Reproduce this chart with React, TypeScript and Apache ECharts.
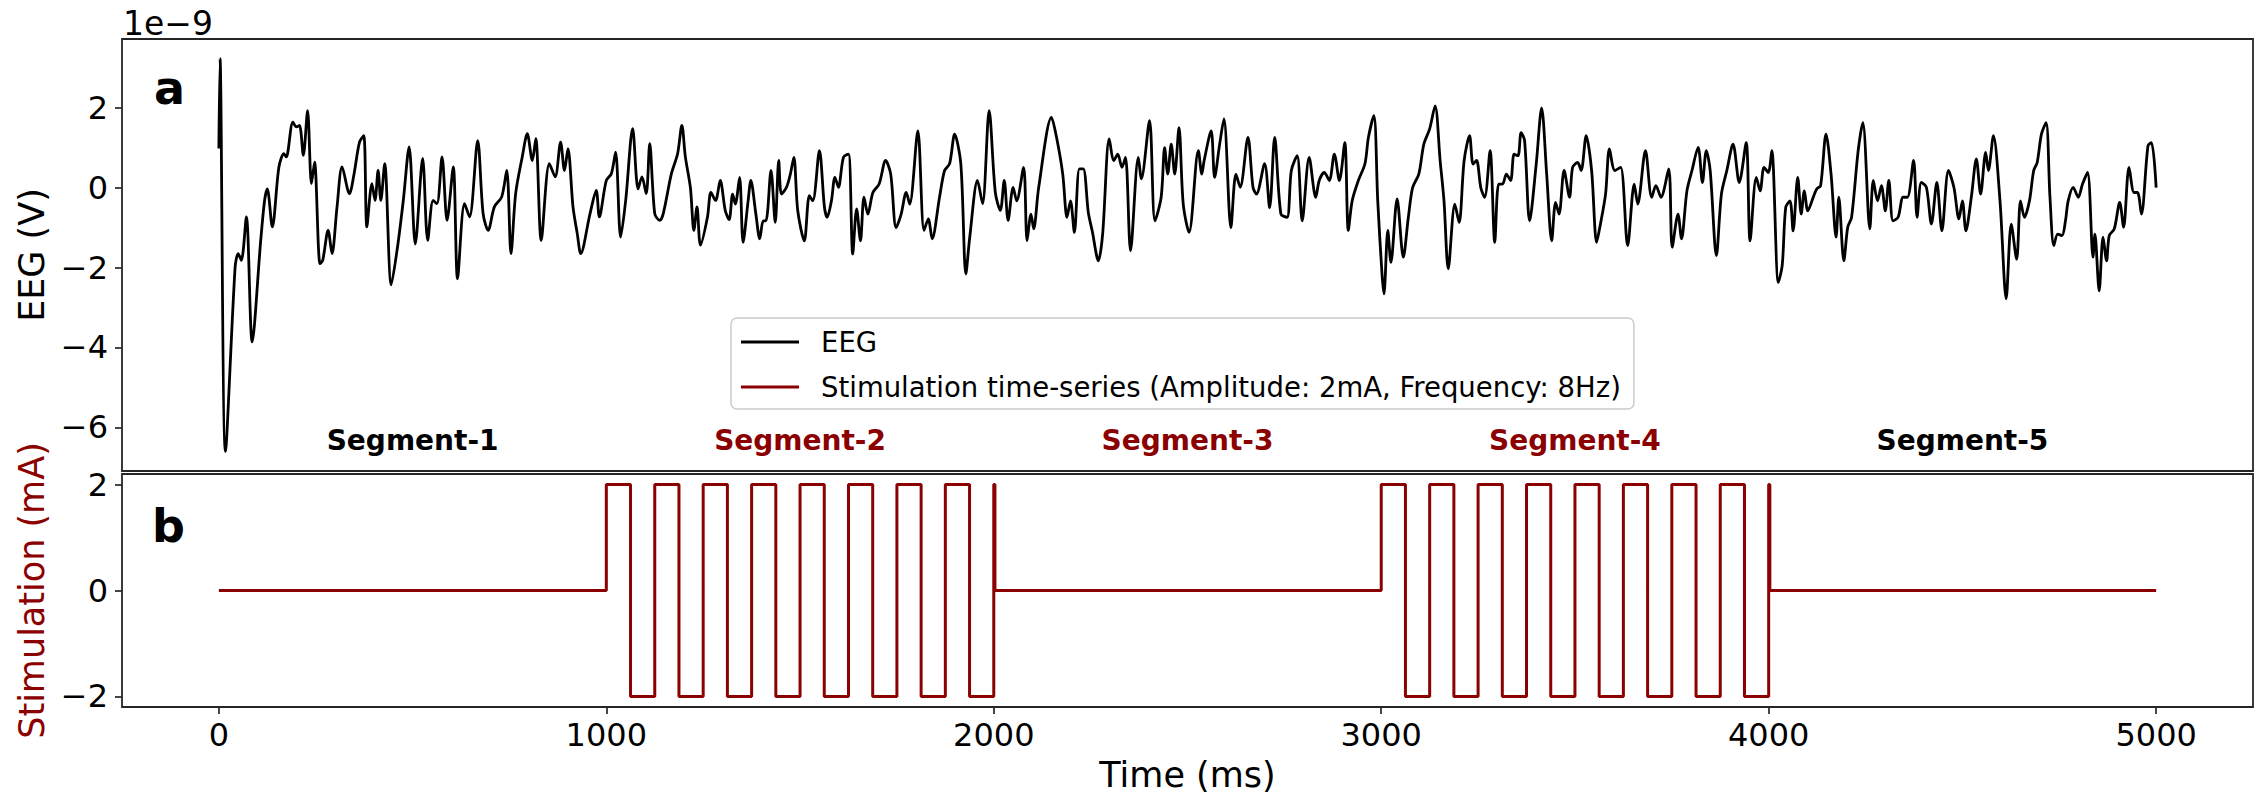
import React, { useEffect, useRef } from "react";
import * as echarts from "echarts";

// ---- Data ----
// EEG samples (time in ms, value in units of 1e-9 V)
const eegTime = [
  0, 3, 17, 42, 50, 58, 71, 86, 108, 118, 125, 138, 155, 168, 174, 191, 200, 208, 218, 229,
  239, 247, 261, 268, 282, 292, 305, 318, 337, 349, 363, 374, 382, 395, 403, 411, 418, 428, 445, 461,
  476, 491, 507, 526, 539, 553, 563, 576, 589, 605, 616, 634, 647, 668, 682, 695, 711, 730, 743, 754,
  766, 783, 796, 809, 818, 832, 853, 868, 882, 892, 901, 914, 925, 934, 958, 974, 982, 1000, 1013, 1024,
  1037, 1050, 1068, 1082, 1092, 1103, 1112, 1125, 1138, 1147, 1168, 1184, 1195, 1204, 1217, 1226, 1234, 1243,
  1261, 1270, 1282, 1294, 1307, 1317, 1326, 1333, 1344, 1353, 1366, 1373, 1386, 1396, 1405, 1412, 1425, 1436,
  1445, 1452, 1465, 1475, 1484, 1494, 1511, 1524, 1533, 1550, 1563, 1570, 1581, 1590, 1599, 1612, 1625, 1636,
  1646, 1656, 1665, 1675, 1688, 1704, 1721, 1734, 1748, 1761, 1774, 1783, 1804, 1820, 1831, 1841, 1860, 1873,
  1886, 1899, 1915, 1928, 1938, 1958, 1971, 1988, 2004, 2017, 2027, 2037, 2050, 2059, 2077, 2086, 2096, 2103,
  2116, 2149, 2162, 2178, 2189, 2198, 2208, 2221, 2231, 2244, 2254, 2270, 2281, 2298, 2310, 2320, 2331, 2340,
  2353, 2373, 2381, 2402, 2416, 2432, 2441, 2449, 2458, 2467, 2478, 2489, 2504, 2528, 2537, 2543, 2561, 2570,
  2583, 2594, 2612, 2625, 2636, 2656, 2669, 2678, 2699, 2712, 2725, 2741, 2757, 2768, 2783, 2796, 2814, 2831,
  2840, 2853, 2866, 2879, 2892, 2906, 2915, 2925, 2941, 2958, 2967, 2981, 2991, 3002, 3007, 3017, 3025, 3041,
  3057, 3070, 3081, 3097, 3110, 3125, 3139, 3152, 3162, 3173,
  3190, 3201, 3214, 3228, 3237, 3246, 3257, 3267, 3281, 3293, 3303, 3313, 3323, 3334, 3343, 3353, 3361, 3370,
  3383, 3400, 3414, 3427, 3440, 3450, 3459, 3472, 3486, 3494, 3507, 3516, 3529, 3543, 3556, 3565, 3579, 3589,
  3603, 3618, 3636, 3653, 3662, 3682, 3698, 3709, 3722, 3742, 3751, 3766, 3775, 3789, 3802, 3818, 3829, 3839,
  3849, 3865, 3878, 3892, 3908, 3924, 3942, 3952, 3968, 3978, 3988, 3999, 4008, 4025, 4035, 4044, 4055, 4063,
  4075, 4084, 4092, 4101, 4115, 4124, 4134, 4148, 4161, 4174, 4181, 4194, 4204, 4214, 4231, 4243, 4261, 4270,
  4281, 4291, 4301, 4310, 4321, 4334, 4347, 4358, 4374, 4383, 4394, 4407, 4420, 4434, 4447, 4464, 4478, 4491,
  4500, 4509, 4523, 4536, 4547, 4560, 4567, 4580, 4597, 4613, 4626, 4640, 4650, 4660, 4673, 4684, 4693, 4704,
  4716, 4726, 4736, 4746, 4757, 4766, 4773, 4786, 4799, 4810, 4823, 4837, 4842, 4853, 4863, 4872, 4879, 4892,
  4906, 4916, 4930, 4943, 4952, 4962, 4979, 4988, 5000,
];
const eegValue = [
  0.98, 3.23, -6.6, -1.98, -1.65, -1.82, -0.73, -3.86, -1.32, -0.32, -0.03, -0.98, 0.52, 0.85, 0.77, 1.64, 1.52, 1.56, 0.81, 1.93,
  0.1, 0.64, -1.9, -1.82, -1.07, -1.65, -0.48, 0.52, -0.15, 0.35, 1.14, 1.3, -0.98, 0.1, -0.32, 0.43, -0.32, 0.6, -2.43, -1.49,
  -0.32, 1.02, -1.41, 0.73, -1.32, -0.32, -0.4, 0.77, -0.82, 0.52, -2.28, -0.4, -0.73, 1.18, -0.65, -1.07, -0.48, -0.23, 0.43, -1.65,
  -0.15, 0.77, 1.35, 0.68, 1.23, -1.32, 0.6, 0.27, 1.14, 0.43, 0.98, -0.48, -1.15, -1.65, -0.65, -0.07, -0.73, 0.18, 0.35, 0.89,
  -1.24, -0.32, 1.48, -0.03, 0.27, -0.15, 1.1, -0.65, -0.82, -0.65, 0.35, 0.85, 1.56, 0.77, 0.0, -1.07, -0.48, -1.44,
  -0.74, -0.12, -0.32, 0.18, -0.57, -0.8, -0.16, -0.41, 0.26, -1.37, -0.33, 0.18, -0.66, -1.28, -0.83, -0.83, 0.43, -0.87,
  0.68, -0.16, 0.01, 0.34, 0.76, -0.57, -1.33, -0.2, -0.33, 0.93, -0.49, -0.74, -0.33, 0.26, 0.01, 0.76, 0.84, -1.66,
  -0.53, -1.33, -0.24, -0.66, -0.12, 0.09, 0.68, 0.34, -1.0, -0.66, -0.12, -0.41, 1.42, -1.07, -0.78, -1.28, -0.24, 0.43,
  0.6, 1.34, 0.59, -2.16, -1.24, 0.18, -0.4, 1.93, -0.12, -0.57, 0.18, -0.82, 0.01, -0.33, 0.51, -1.33, -0.66, -1.03,
  0.01, 1.76, 1.26, 0.34, -0.74, -0.33, -1.12, 0.47, 0.47, -0.62, -1.08, -1.83, -1.16, 1.22, 0.68, 0.84, 0.51, 0.76,
  -1.58, 0.76, 0.22, 1.68, -0.83, -0.24, 1.0, 0.34, 1.09, 0.34, 1.5, -0.41, -1.12, 0.93, 0.34, 0.68, 1.42, 0.26,
  1.09, 1.72, -1.0, 0.34, 0.01, 1.26, 0.01, -0.16, 0.6, -0.5, 1.26, -0.66, -0.74, 0.43, 0.8, -0.83, 0.76, -0.24,
  0.18, 0.38, 0.18, 0.84, 0.18, 1.13, -1.07, -0.33, 0.18, 0.6, 1.26, 1.8, -0.33, -2.16, -2.66, -1.07, -1.87, -0.28,
  -1.74, -0.74, 0.0, 0.34, 1.09, 1.47, 2.05, 0.68, -0.33, -2.03,
  -0.41, -0.87, 0.68, 1.3, 0.59, 0.68, 0.0, -0.24, 0.93, -1.37, 0.09, 0.09, 0.34, 0.18, 0.84, 0.8, 1.38, 1.18,
  -0.83, 0.59, 2.0, 0.34, -1.33, -0.37, -0.66, 0.43, -0.24, 0.51, 0.63, 0.43, 1.3, 0.43, -1.37, -0.95, -0.16, 0.97,
  0.43, 0.51, -1.45, 0.09, -0.41, 0.93, -0.24, 0.05, -0.24, 0.47, -1.49, -0.66, -1.28, -0.08, 0.43, 1.01, 0.13, 0.93,
  0.43, -1.7, -0.16, 0.43, 1.09, 0.13, 1.13, -1.33, 0.26, -0.08, 0.51, 0.38, 0.93, -2.37, -1.94, -0.49, -0.33, -1.08,
  0.26, -0.66, -0.08, -0.58, -0.24, -0.03, 0.05, 1.34, 0.34, -1.24, -0.24, -1.83, -0.99, -0.74, 0.93, 1.63, -1.03, 0.18,
  -0.33, 0.05, -0.58, 0.18, -0.83, -0.74, -0.24, -0.24, 0.68, -0.74, 0.13, 0.01, -0.91, 0.13, -1.08, 0.43, 0.01, -0.78,
  -0.33, -1.08, -0.24, 0.72, -0.16, 0.88, 0.43, 1.3, -0.33, -2.78, -0.91, -1.79, -0.33, -0.74, -0.33, 0.43, 0.63, 1.34,
  1.63, -0.24, -1.45, -1.16, -1.2, -0.83, -0.33, 0.01, -0.24, 0.09, 0.38, -1.74, -1.16, -2.58, -1.24, -1.83, -1.2, -1.03,
  -0.37, -0.99, 0.51, -0.12, -0.12, -0.66, 1.05, 1.13, 0.0,
];

// Stimulation change points (time in ms, current in mA), held until the next point
const stimTime = [
  0, 1000, 1062.5, 1125, 1187.5, 1250, 1312.5, 1375, 1437.5, 1500, 1562.5, 1625, 1687.5, 1750, 1812.5, 1875, 1937.5, 2000, 2003,
  3000, 3062.5, 3125, 3187.5, 3250, 3312.5, 3375, 3437.5, 3500, 3562.5, 3625, 3687.5, 3750, 3812.5, 3875, 3937.5, 4000, 4003,
  5000,
];
const stimValue = [
  0, 2, -2, 2, -2, 2, -2, 2, -2, 2, -2, 2, -2, 2, -2, 2, -2, 2, 0,
  2, -2, 2, -2, 2, -2, 2, -2, 2, -2, 2, -2, 2, -2, 2, -2, 2, 0,
  0,
];

const segmentCenters = [500, 1500, 2500, 3500, 4500];
const segmentNames = ["Segment-1", "Segment-2", "Segment-3", "Segment-4", "Segment-5"];
const segmentColors = ["#000000", "#8B0000", "#8B0000", "#8B0000", "#000000"];
const segmentLabelY = -6.33;

const xTicks = [0, 1000, 2000, 3000, 4000, 5000];
const eegTicks = [-6, -4, -2, 0, 2];
const stimTicks = [-2, 0, 2];

const EEG_NAME = "EEG";
const STIM_NAME = "Stimulation time-series (Amplitude: 2mA, Frequency: 8Hz)";

const FONT = "'DejaVu Sans', 'Noto Sans', sans-serif";
const DARK_RED = "#8B0000";
const FRAME = "#262626";

function buildOption() {
  const eegMin = Math.min(...eegValue);
  const eegMax = Math.max(...eegValue);
  const pad = (eegMax - eegMin) * 0.05;
  const minus = (v: number) => String(v).replace("-", "\u2212");

  const tickStyle = (values: number[]) => ({
    show: true,
    inside: false,
    length: 7,
    customValues: values,
    lineStyle: { color: FRAME, width: 1.7 },
  });
  const labelStyle = (values: number[], margin: number) => ({
    show: true,
    customValues: values,
    margin,
    fontSize: 32,
    fontFamily: FONT,
    color: "#000",
    formatter: (v: number) => minus(v),
  });

  return {
    animation: false,
    backgroundColor: "#ffffff",
    textStyle: { fontFamily: FONT },
    grid: [
      { left: 122, top: 39, width: 2131, height: 432, show: true, borderColor: FRAME, borderWidth: 1.8, backgroundColor: "transparent", containLabel: false, outerBoundsMode: "none" },
      { left: 122, top: 474, width: 2131, height: 233, show: true, borderColor: FRAME, borderWidth: 1.8, backgroundColor: "transparent", containLabel: false, outerBoundsMode: "none" },
    ],
    xAxis: [
      {
        type: "value", gridIndex: 0, min: -250, max: 5250,
        axisLine: { show: false, onZero: false }, axisTick: { show: false }, axisLabel: { show: false }, splitLine: { show: false },
      },
      {
        type: "value", gridIndex: 1, min: -250, max: 5250,
        axisLine: { show: false, onZero: false },
        axisTick: tickStyle(xTicks),
        axisLabel: labelStyle(xTicks, 12),
        splitLine: { show: false },
        name: "Time (ms)", nameLocation: "middle", nameGap: 50,
        nameTextStyle: { fontSize: 35, fontFamily: FONT, color: "#000" },
      },
    ],
    yAxis: [
      {
        type: "value", gridIndex: 0, min: eegMin - pad, max: eegMax + pad,
        axisLine: { show: false, onZero: false },
        axisTick: tickStyle(eegTicks),
        axisLabel: labelStyle(eegTicks, 14),
        splitLine: { show: false },
        name: "EEG (V)", nameLocation: "middle", nameGap: 71, nameRotate: 90,
        nameTextStyle: { fontSize: 35, fontFamily: FONT, color: "#000" },
      },
      {
        type: "value", gridIndex: 1, min: -2.2, max: 2.2,
        axisLine: { show: false, onZero: false },
        axisTick: tickStyle(stimTicks),
        axisLabel: labelStyle(stimTicks, 14),
        splitLine: { show: false },
        name: "Stimulation (mA)", nameLocation: "middle", nameGap: 71, nameRotate: 90,
        nameTextStyle: { fontSize: 35, fontFamily: FONT, color: DARK_RED },
      },
    ],
    legend: {
      show: true,
      orient: "vertical",
      left: 731,
      top: 318,
      padding: [9, 13, 7, 10],
      itemGap: 15,
      itemWidth: 58,
      itemHeight: 3,
      backgroundColor: "rgba(255,255,255,0.8)",
      borderColor: "#cccccc",
      borderWidth: 1.5,
      borderRadius: 6,
      selectedMode: false,
      textStyle: { fontSize: 27.5, fontFamily: FONT, color: "#000", lineHeight: 30, padding: [0, 0, 0, 17] },
      data: [
        { name: EEG_NAME, icon: "rect" },
        { name: STIM_NAME, icon: "rect" },
      ],
    },
    series: [
      {
        name: EEG_NAME,
        type: "line",
        xAxisIndex: 0,
        yAxisIndex: 0,
        data: eegTime.map((t, i) => [t, eegValue[i]]),
        showSymbol: false,
        smooth: 0.3,
        lineStyle: { color: "#000000", width: 2.8 },
        itemStyle: { color: "#000000" },
        z: 3,
      },
      {
        name: STIM_NAME,
        type: "line",
        xAxisIndex: 1,
        yAxisIndex: 1,
        step: "end",
        data: stimTime.map((t, i) => [t, stimValue[i]]),
        showSymbol: false,
        lineStyle: { color: DARK_RED, width: 3 },
        itemStyle: { color: DARK_RED },
        z: 3,
      },
      {
        name: "segments",
        type: "scatter",
        xAxisIndex: 0,
        yAxisIndex: 0,
        symbolSize: 0,
        silent: true,
        itemStyle: { opacity: 1 },
        data: segmentCenters.map((c, i) => ({
          value: [c, segmentLabelY],
          name: segmentNames[i],
          label: { color: segmentColors[i] },
        })),
        label: {
          show: true,
          position: "inside",
          formatter: (p: any) => p.name,
          fontSize: 28,
          fontWeight: "bold",
          fontFamily: FONT,
          align: "center",
          verticalAlign: "middle",
          opacity: 1,
          textBorderWidth: 0,
        },
        z: 4,
      },
    ],
    graphic: [
      {
        type: "text",
        x: 123,
        y: 23.5,
        style: { text: "1e\u22129", fontSize: 33, fontFamily: FONT, fill: "#000", align: "left", verticalAlign: "middle" },
      },
      {
        type: "text",
        x: 169.5,
        y: 87.5,
        style: { text: "a", fontSize: 46, fontWeight: "bold", fontFamily: FONT, fill: "#000", align: "center", verticalAlign: "middle" },
      },
      {
        type: "text",
        x: 168.5,
        y: 526,
        style: { text: "b", fontSize: 46, fontWeight: "bold", fontFamily: FONT, fill: "#000", align: "center", verticalAlign: "middle" },
      },
    ],
  };
}

export default function App() {
  const ref = useRef<HTMLDivElement>(null);
  useEffect(() => {
    document.body.style.margin = "0";
    if (!ref.current) return;
    const chart = echarts.init(ref.current, null, { renderer: "svg", width: 2259, height: 794 });
    chart.setOption(buildOption() as any);
    return () => {
      chart.dispose();
    };
  }, []);
  return <div ref={ref} style={{ width: 2259, height: 794, position: "absolute", left: 0, top: 0 }} />;
}
